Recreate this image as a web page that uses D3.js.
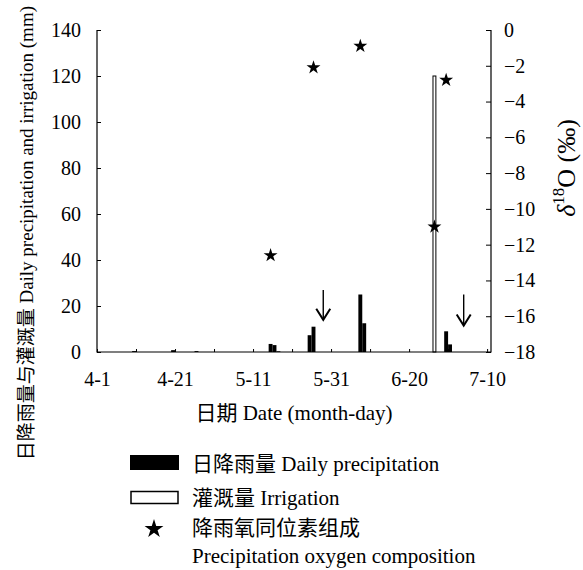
<!DOCTYPE html>
<html>
<head>
<meta charset="utf-8">
<script src="https://cdn.jsdelivr.net/npm/d3@7"></script>
<style>
  body { margin: 0; background: #fff; }
  svg { display: block; }
</style>
</head>
<body>
<svg id="chart" width="583" height="570"></svg>
<script>
// 日降雨量 (mm)
const precipDates = ['4-10', '4-20', '4-26', '5-15', '5-16', '5-17', '5-25', '5-26', '6-7', '6-8', '6-29', '6-30'];
const precipValues = [0.4, 0.8, 0.4, 3.5, 3.0, 0.3, 7.3, 11, 25, 12.5, 9, 3.3];
// 灌溉量 (mm)
const irrigDates = ['6-26'];
const irrigValues = [120];
// 降雨氧同位素组成 δ18O (‰)
const isoDates = ['5-15', '5-26', '6-7', '6-26', '6-29'];
const isoValues = [-12.6, -2.1, -0.9, -11.0, -2.8];
// arrows: date, top and tip in mm
const arrowDates = ['5-29', '7-4'];
const arrowTop = [27, 25];
const arrowTip = [14, 11.5];

const leftTicks = [0, 20, 40, 60, 80, 100, 120, 140];
const rightTicks = [0, -2, -4, -6, -8, -10, -12, -14, -16, -18];

const FONT = '"Liberation Serif", "Noto Sans CJK SC", serif';

const parse = d3.timeParse('%Y-%m-%d');
const toDate = (s) => parse('2015-' + s);
const start = toDate('4-1');
const xTicks = d3.range(11).map((i) => d3.timeDay.offset(start, i * 10));

const svg = d3.select('#chart').attr('font-family', FONT);
const x = d3.scaleTime().domain([start, d3.timeDay.offset(start, 101)]).range([97, 491]);
const yL = d3.scaleLinear().domain([0, 140]).range([352, 30]);
const yR = d3.scaleLinear().domain([-18, 0]).range([352, 30]);
const dayW = (d) => x(d3.timeDay.offset(d, 1)) - x(d);

const fmtDay = d3.timeFormat('%-m-%-d');
const minus = (v) => (v < 0 ? '\u2212' + Math.abs(v) : String(v));

// bars
svg.append('g').selectAll('rect')
  .data(precipDates.map((d, i) => ({ date: toDate(d), v: precipValues[i] })))
  .join('rect')
  .attr('x', (d) => x(d.date))
  .attr('width', (d) => dayW(d.date))
  .attr('y', (d) => yL(d.v))
  .attr('height', (d) => yL(0) - yL(d.v))
  .attr('fill', '#000');

svg.append('g').selectAll('rect')
  .data(irrigDates.map((d, i) => ({ date: toDate(d), v: irrigValues[i] })))
  .join('rect')
  .attr('x', (d) => x(d.date) + 0.5)
  .attr('width', (d) => dayW(d.date) - 1)
  .attr('y', (d) => yL(d.v))
  .attr('height', (d) => yL(0) - yL(d.v))
  .attr('fill', '#fff')
  .attr('stroke', '#000')
  .attr('stroke-width', 1);

// axes: d3 sets sans-serif on the group, override it
const axisStyle = (g) => {
  g.attr('font-family', FONT).attr('font-size', 20);
  g.select('.domain').remove();
  g.selectAll('line').attr('stroke', '#000');
  g.selectAll('text').attr('fill', '#000').style('font-family', FONT);
};

svg.append('g')
  .attr('transform', 'translate(0,352)')
  .call(d3.axisBottom(x).tickValues(xTicks).tickSize(-3).tickPadding(20)
    .tickFormat((d, i) => (i % 2 === 0 ? fmtDay(d) : '')))
  .call(axisStyle);

svg.append('g')
  .attr('transform', 'translate(97,0)')
  .call(d3.axisLeft(yL).tickValues(leftTicks).tickSize(-4).tickPadding(16))
  .call(axisStyle);

svg.append('g')
  .attr('transform', 'translate(491,0)')
  .call(d3.axisRight(yR).tickValues(rightTicks).tickSize(-5).tickPadding(13).tickFormat(minus))
  .call(axisStyle);

// axis lines
svg.append('path')
  .attr('d', `M97,${yL(140)}V${yL(0)}H491V${yR(0)}`)
  .attr('fill', 'none')
  .attr('stroke', '#000')
  .attr('stroke-width', 1.2);

// stars
const star = d3.symbol().type(d3.symbolStar).size(60);
svg.append('g').selectAll('path')
  .data(isoDates.map((d, i) => ({ date: toDate(d), v: isoValues[i] })))
  .join('path')
  .attr('d', star)
  .attr('transform', (d) => `translate(${x(d.date) + dayW(d.date) / 2},${yR(d.v)})`)
  .attr('fill', '#000');

// arrows
const arrows = svg.append('g').attr('stroke', '#000').attr('stroke-width', 1.4).attr('fill', 'none');
arrowDates.forEach((d, i) => {
  const ax = x(toDate(d));
  const y0 = yL(arrowTop[i]);
  const y1 = yL(arrowTip[i]);
  arrows.append('line').attr('x1', ax).attr('x2', ax).attr('y1', y0).attr('y2', y1);
  arrows.append('path').attr('d', `M${ax - 7},${y1 - 11}L${ax},${y1}L${ax + 7},${y1 - 11}`)
    .attr('stroke-width', 2);
});

// axis titles
svg.append('text')
  .attr('transform', 'translate(294,420)')
  .attr('text-anchor', 'middle')
  .attr('font-size', 21)
  .text('日期 Date (month-day)');

svg.append('text')
  .attr('transform', 'translate(33,6) rotate(-90)')
  .attr('text-anchor', 'end')
  .attr('font-size', 19)
  .text('日降雨量与灌溉量 Daily precipitation and irrigation (mm)');

const rt = svg.append('text')
  .attr('transform', 'translate(575,168) rotate(-90)')
  .attr('text-anchor', 'middle')
  .attr('font-size', 26);
rt.append('tspan').attr('font-style', 'italic').text('δ');
rt.append('tspan').attr('font-size', 17).attr('dy', -11).text('18');
rt.append('tspan').attr('dy', 11).text('O (‰)');

// legend
const lg = svg.append('g').attr('font-size', 21);
lg.append('rect').attr('x', 130).attr('y', 455).attr('width', 49).attr('height', 15).attr('fill', '#000');
lg.append('text').attr('x', 192).attr('y', 471).text('日降雨量  Daily precipitation');
lg.append('rect').attr('x', 131).attr('y', 491.5).attr('width', 47).attr('height', 12).attr('fill', '#fff')
  .attr('stroke', '#000').attr('stroke-width', 1.5);
lg.append('text').attr('x', 192).attr('y', 505).text('灌溉量  Irrigation');
lg.append('path').attr('d', d3.symbol().type(d3.symbolStar).size(110)).attr('transform', 'translate(154,529)');
lg.append('text').attr('x', 192).attr('y', 535).text('降雨氧同位素组成');
lg.append('text').attr('x', 192).attr('y', 563).text('Precipitation oxygen composition');
</script>
</body>
</html>
